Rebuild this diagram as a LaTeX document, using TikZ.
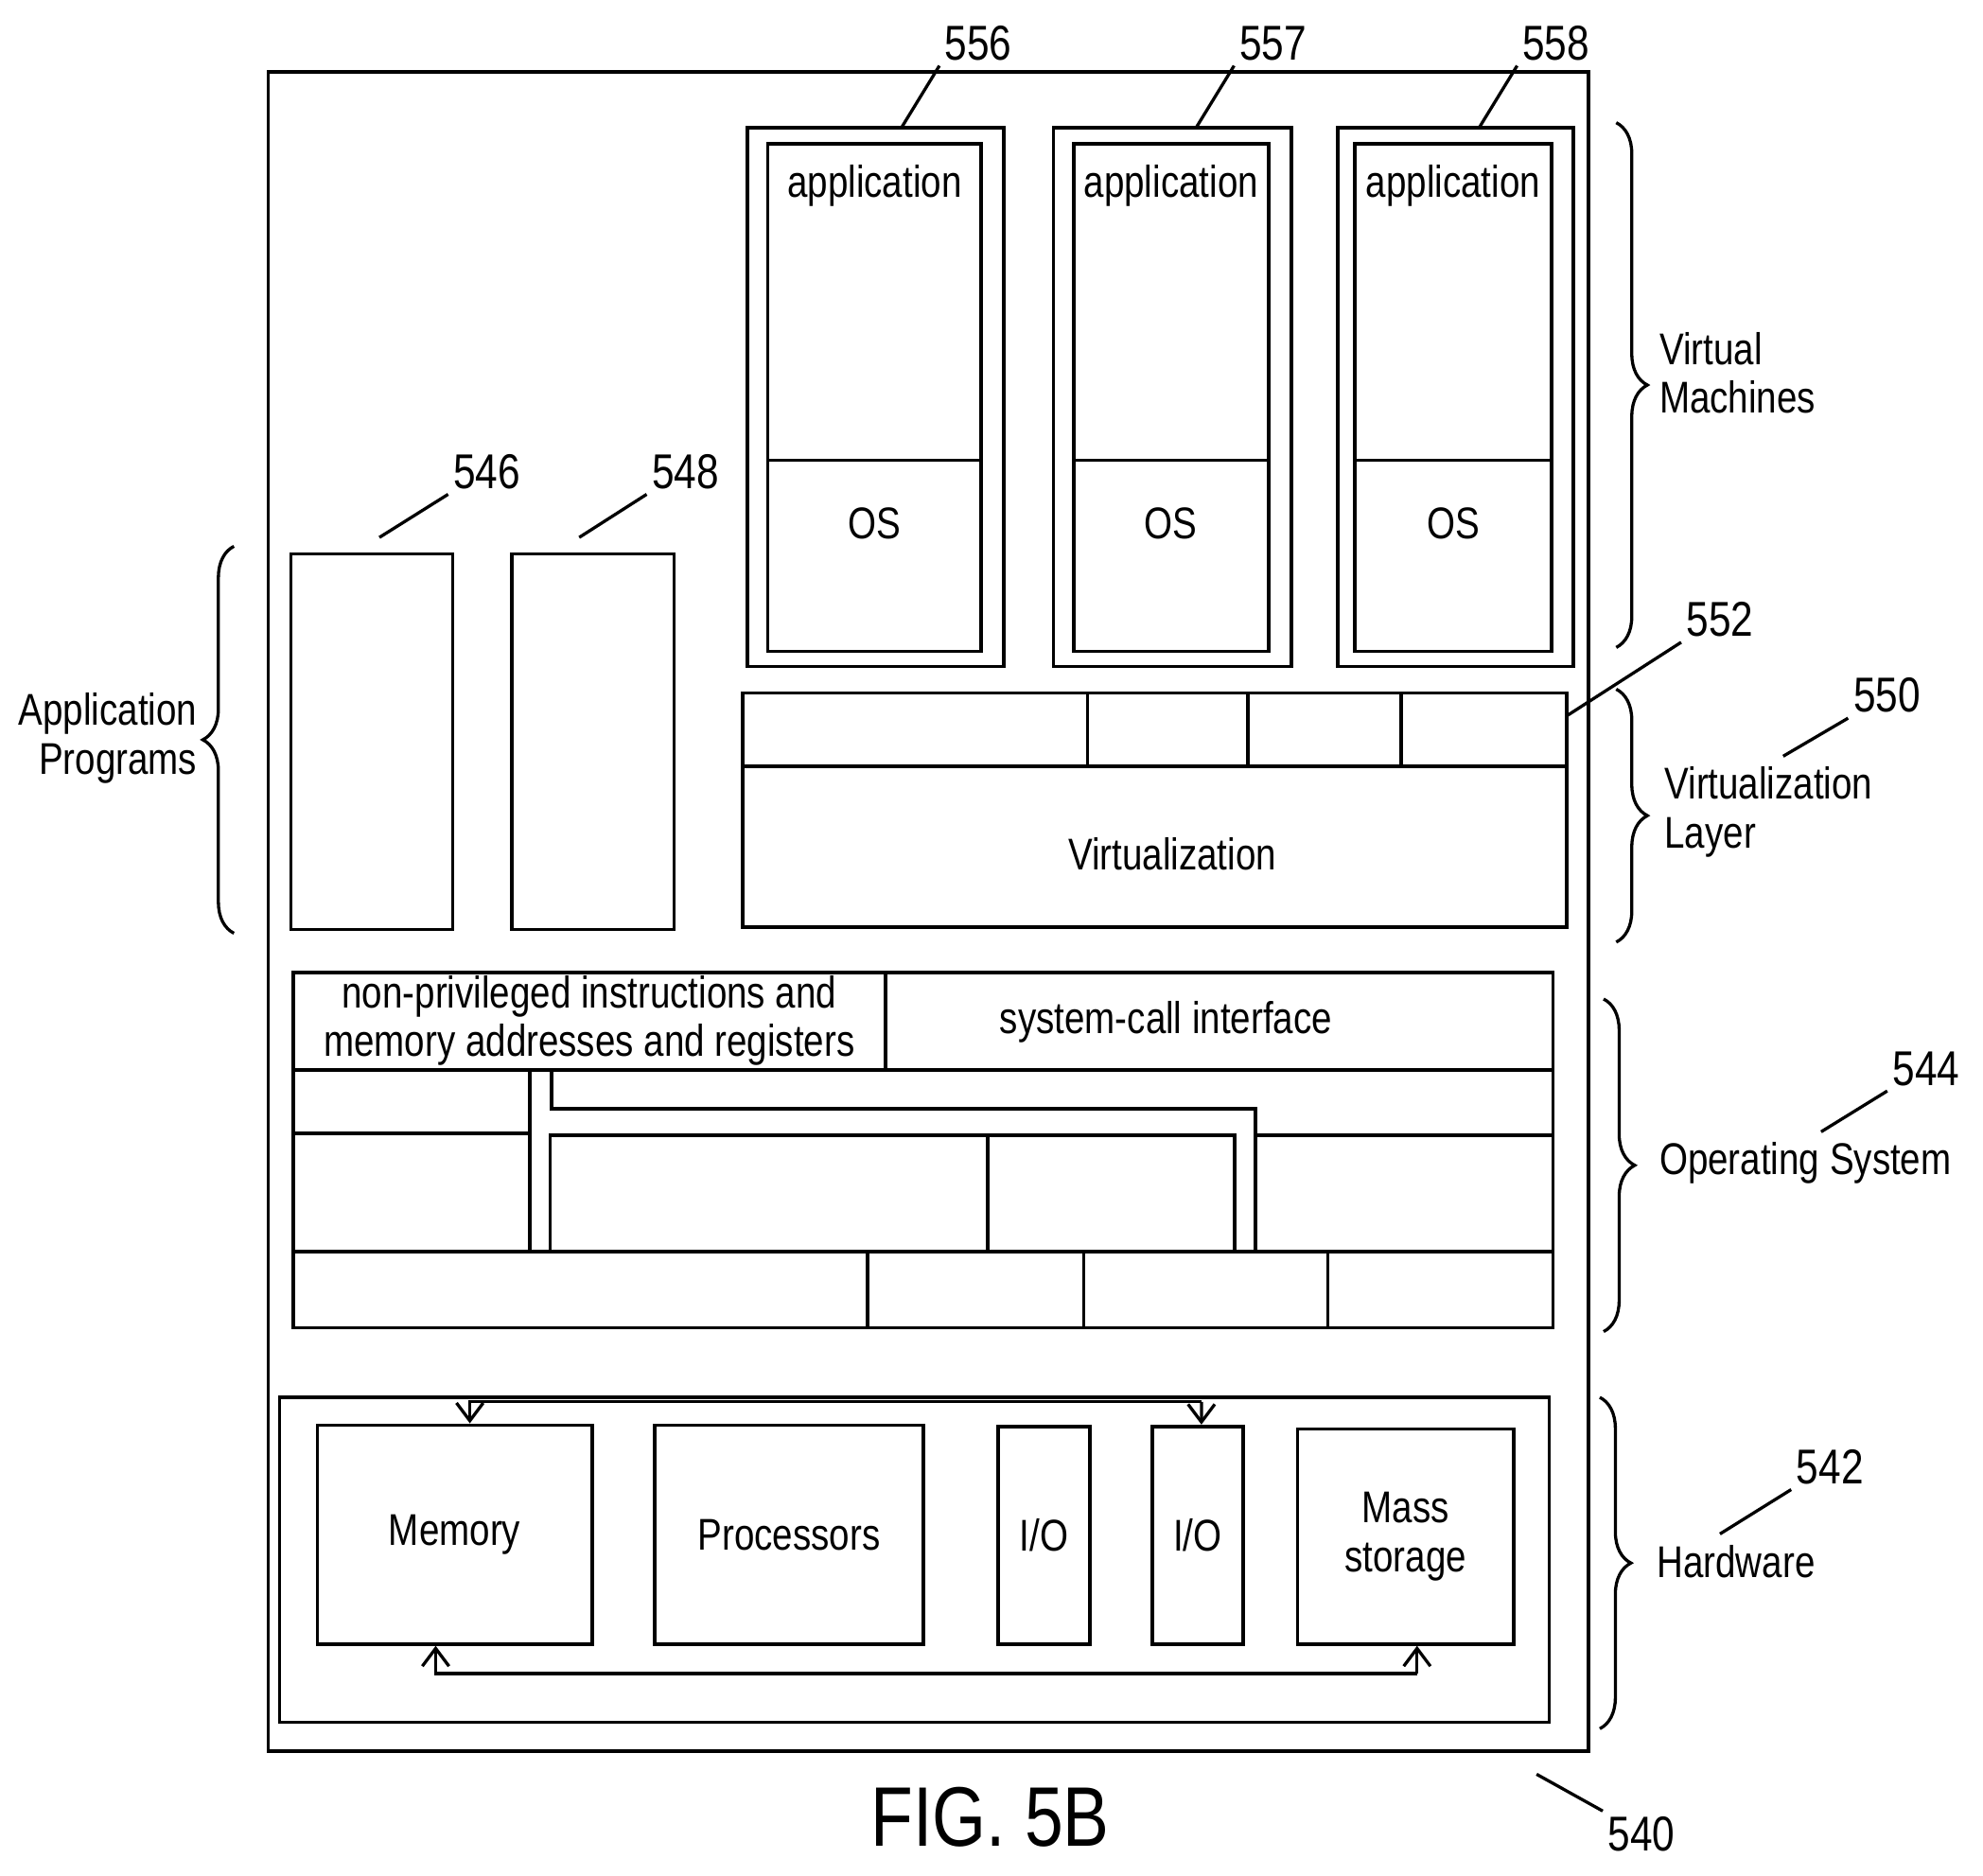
\documentclass[tikz,border=0pt]{standalone}
\usepackage{fontspec}
\setmainfont{Liberation Sans}[FakeStretch=0.82]
\usetikzlibrary{decorations.pathreplacing,arrows.meta}
\tikzset{
  blk/.style={draw, line width=0.8pt},
  lbl/.style={font=\fontsize{10}{11}\selectfont, inner sep=1pt},
  num/.style={font=\fontsize{11}{12}\selectfont, inner sep=1pt},
  lead/.style={line width=0.7pt},
  brc/.style={decorate, decoration={brace, amplitude=7pt}, line width=0.7pt},
  bus/.style={line width=0.7pt, -{Straight Barb[length=4pt,width=6pt]}},
}
\begin{document}
\begin{tikzpicture}[x=0.01cm, y=-0.01cm]
\useasboundingbox (0,0) rectangle (1568,1483);

% outer computer
\draw[blk] (212,57) rectangle (1256,1385);
\node[num] (n540) at (1298,1450) {540};
\draw[lead] (1215,1403) -- (n540.north west);
\node[font=\fontsize{19}{21}\selectfont] (fig) at (783,1437) {FIG. 5B};

% virtual machines
\foreach \nm/\xa/\xb/\xc/\xd/\num in {vma/591/607/776/794/556, vmb/833/849/1003/1021/557, vmc/1058/1071/1227/1244/558}{
  \draw[blk] (\xa,101) rectangle (\xd,527);
  \draw[blk] (\xb,114) rectangle (\xc,515);
  \draw[blk] (\xb,364) -- (\xc,364);
  \node[lbl] (\nm app) at ({(\xb+\xc)/2},147) {application};
  \node[lbl] (\nm os) at ({(\xb+\xc)/2},414) {OS};
  \coordinate (\nm top) at ({\xa+(\xd-\xa)*0.6},101);
  \node[num, anchor=south west] (\nm num) at ({\xa+(\xd-\xa)*0.6+30},52) {\num};
  \draw[lead] (\nm top) -- (\nm num.south west);
}

% virtualization layer
\draw[blk] (587,548) rectangle (1239,733);
\draw[blk] (587,606) -- (1239,606);
\foreach \x in {860,987,1108} \draw[blk] (\x,548) -- (\x,606);
\node[lbl] (virt) at (927,675) {Virtualization};
\coordinate (vtr) at (1239,566);
\node[num] (n552) at (1360,490) {552};
\draw[lead] (vtr) -- (n552.south west);

% application programs
\draw[blk] (230,438) rectangle (358,735);
\draw[blk] (405,438) rectangle (533,735);
\coordinate (apa) at (300,425);
\coordinate (apb) at (458,425);
\node[num] (n546) at (385,373) {546};
\node[num] (n548) at (542,373) {548};
\draw[lead] (apa) -- (n546.south west);
\draw[lead] (apb) -- (n548.south west);

% operating system
\draw[blk] (232,769) rectangle (1228,1050);
\draw[blk] (700,769) -- (700,846);
\draw[blk] (232,846) -- (1228,846);
\node[lbl, align=center] (npi) at (466,807) {non-privileged instructions and\\memory addresses and registers};
\node[lbl] (sci) at (922,808) {system-call interface};
\draw[blk] (232,896) -- (419,896);
\draw[blk] (419,846) -- (419,990);
\draw[blk] (436,846) -- (436,877) -- (993,877) -- (993,990);
\draw[blk] (435,898) rectangle (976,990);
\draw[blk] (781,898) -- (781,990);
\draw[blk] (993,898) -- (1228,898);
\draw[blk] (232,990) -- (1228,990);
\foreach \x in {686,857,1050} \draw[blk] (\x,990) -- (\x,1050);

% hardware
\draw[blk] (221,1105) rectangle (1225,1362);
\node[blk, lbl, minimum width=2.17cm, minimum height=1.73cm] (mem) at (359.5,1213.5) {Memory};
\node[blk, lbl, minimum width=2.12cm, minimum height=1.73cm] (proc) at (624,1213.5) {Processors};
\node[blk, lbl, minimum width=0.73cm, minimum height=1.72cm] (ioa) at (825.5,1214) {I/O};
\node[blk, lbl, minimum width=0.72cm, minimum height=1.72cm] (iob) at (947,1214) {I/O};
\node[blk, lbl, minimum width=1.71cm, minimum height=1.70cm, align=center] (mass) at (1111.5,1215) {Mass\\storage};
\draw[bus] (iob.north) ++(3,-18) coordinate (bta) -| ([xshift=0.12cm]mem.north);
\draw[bus] (bta) -- ([xshift=0.03cm]iob.north);
\draw[bus] ([xshift=0.09cm]mass.south) ++(0,22) coordinate (bba) -| ([xshift=-0.15cm]mem.south);
\draw[bus] (bba) -- ([xshift=0.09cm]mass.south);

% braces and labels
\draw[brc] (1278,97) -- (1278,512);
\node[lbl, align=left, anchor=west] (vm) at (1308,295) {Virtual\\Machines};
\draw[brc] (1278,545) -- (1278,745);
\node[lbl, align=left, anchor=west] (vl) at (1312,642) {Virtualization\\Layer};
\node[num] (n550) at (1492,550) {550};
\draw[lead] (1410,598) -- (n550.south west);
\draw[brc] (1268,790) -- (1268,1053);
\node[lbl, anchor=west] (os) at (1308,920) {Operating System};
\node[num] (n544) at (1523,845) {544};
\draw[lead] (1440,895) -- (n544.south west);
\draw[brc] (1265,1105) -- (1265,1367);
\node[lbl, anchor=west] (hw) at (1306,1235) {Hardware};
\node[num] (n542) at (1447,1160) {542};
\draw[lead] (1360,1213) -- (n542.south west);
\draw[brc] (185,738) -- (185,432);
\node[lbl, align=right, anchor=east] (ap) at (160,584) {Application\\Programs};
\end{tikzpicture}
\end{document}
